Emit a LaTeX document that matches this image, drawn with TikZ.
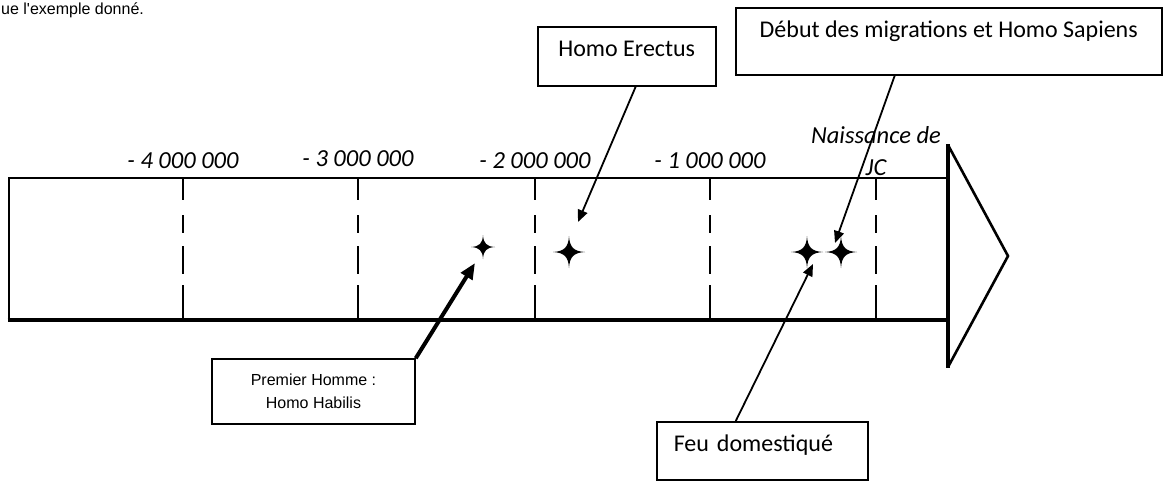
\documentclass[tikz,border=0pt]{standalone}
\usepackage{fontspec}
\setmainfont{Carlito}
\newfontfamily\arialfont{Liberation Sans}
\usetikzlibrary{arrows.meta}

\newcommand\boxsize{\fontsize{24}{30}\selectfont}
\newcommand\yearsize{\fontsize{24.5}{32}\selectfont\itshape}

\tikzset{
  sparkle/.pic={
    \fill (0,-1) .. controls (0.04,-0.3) and (0.3,-0.04) .. (1,0)
      .. controls (0.3,0.04) and (0.04,0.3) .. (0,1)
      .. controls (-0.04,0.3) and (-0.3,0.04) .. (-1,0)
      .. controls (-0.3,-0.04) and (-0.04,-0.3) .. cycle;
  },
  callout/.style={draw, line width=1.5pt, inner sep=0pt, font=\boxsize},
  pointer/.style={line width=1.8pt, -{Triangle[length=12pt,width=10pt]}},
  divider/.style={line width=2.5pt,
    dash pattern=on 22pt off 15pt on 18pt off 13pt on 28pt off 11pt on 60pt}
}

\begin{document}
\begin{tikzpicture}[x=1pt,y=-1pt]
\useasboundingbox (0,0) rectangle (1167,480);

\node[anchor=base west, inner sep=0pt, font=\arialfont\fontsize{16}{19}\selectfont]
  (intro) at (1,14) {ue l\textquotesingle exemple donné.};

\draw[line width=2.6pt] (948,178) -- (9,178) -- (9,320);
\draw[line width=4pt] (7.5,320) -- (948,320);
\draw[line width=2.6pt] (948,145) -- (1008,256) -- (948,367);
\draw[line width=3.4pt] (948,144) -- (948,368);

\foreach \x/\yr/\yb in {183/- 4 000 000/168, 358/- 3 000 000/166,
    535/- 2 000 000/168, 710/- 1 000 000/168} {
  \draw[divider] (\x,178) -- (\x,320);
  \node[anchor=base, inner sep=0pt, font=\yearsize] (year\x) at (\x,\yb) {\yr};
}
\draw[divider] (876,178) -- (876,320);
\node[anchor=base, inner sep=0pt, align=center, font=\yearsize] (naissance)
  at (876,175) {Naissance de\\JC};

\coordinate (habilis) at (483,247);
\coordinate (erectus) at (569,252);
\coordinate (feu) at (807,252);
\coordinate (sapiens) at (841,252);
\pic[scale=12] at (habilis) {sparkle};
\pic[scale=16] at (erectus) {sparkle};
\pic[scale=16] at (feu) {sparkle};
\pic[scale=16] at (sapiens) {sparkle};

\coordinate (habilistip) at (475,263);
\coordinate (erectustip) at (578,222);
\coordinate (feutip) at (813,264);
\coordinate (sapienstip) at (835,243);

\node[draw, line width=1.5pt, minimum width=203pt, minimum height=65pt, align=center,
  font=\arialfont\fontsize{16}{23}\selectfont] (habilisbox) at (313.5,391.5)
  {Premier Homme :\\Homo Habilis};
\node[callout, anchor=north west, minimum width=178pt, text height=30pt, text depth=29pt]
  (erectusbox) at (537,26) {Homo Erectus};
\node[callout, anchor=north west, minimum width=426pt, text height=30pt, text depth=37pt]
  (sapiensbox) at (735,7) {Début des migrations et Homo Sapiens};
\node[callout, anchor=north west, text width=177pt, inner xsep=17pt, align=left,
  text height=30pt, text depth=28pt] (feubox) at (656,421) {Feu domestiqué};

\draw[pointer, line width=4pt, -{Triangle[length=16pt,width=13pt]}]
  (habilisbox.north east) -- (habilistip);
\draw[pointer] ([xshift=9pt]erectusbox.south) -- (erectustip);
\draw[pointer] ([xshift=-54pt]sapiensbox.south) -- (sapienstip);
\draw[pointer] ([xshift=-26.5pt]feubox.north) -- (feutip);
\end{tikzpicture}
\end{document}
